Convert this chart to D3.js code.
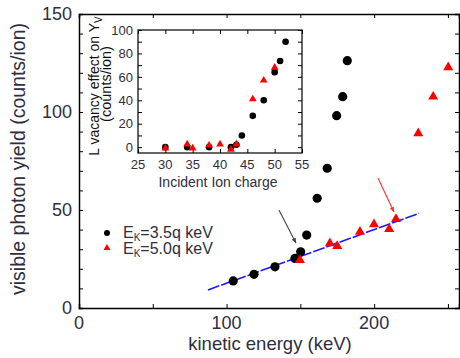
<!DOCTYPE html>
<html>
<head>
<meta charset="utf-8">
<script src="https://cdnjs.cloudflare.com/ajax/libs/d3/7.8.5/d3.min.js"></script>
<style>
  body { margin: 0; background: #fff; }
  svg { display: block; font-family: "Liberation Sans", Arial, sans-serif; }
  .axis path, .axis line { stroke: #000; }
</style>
</head>
<body>
<div id="chart"></div>
<script>
// main panel: visible photon yield vs kinetic energy
var blackEnergy = [104.5, 118.6, 132.8, 146.3, 150.2, 154.3, 161.4, 168.2, 174.6, 178.7, 181.8];
var blackYield  = [13.8, 17.2, 21.0, 25.3, 28.7, 37.2, 56.0, 71.3, 98.1, 107.8, 126.2];
var redEnergy = [149.7, 170.0, 175.0, 190.4, 199.9, 210.2, 214.8, 229.9, 240.0, 250.2];
var redYield  = [24.5, 33.0, 31.6, 38.9, 42.7, 40.3, 45.4, 89.1, 107.8, 122.8];
var fitEnergy = [87.4, 230.4];
var fitYield  = [9.2, 48.3];
var xLabels = [0, 100, 200];
var yTicks = [0, 50, 100, 150];

// inset: L vacancy effect vs incident ion charge
var insetBlackCharge = [30, 34, 38, 42, 43, 44, 46, 48, 50, 51, 52];
var insetBlackEffect = [0, 0, 0, 0, 2, 10, 26.7, 40, 64, 73.5, 90];
var insetRedCharge = [30, 34, 35, 38, 40, 42, 43, 46, 48, 50];
var insetRedEffect = [-1, 2.5, -1, 1.5, 2.5, -2, 2.5, 41, 57, 68];
var insetXTicks = [25, 30, 35, 40, 45, 50, 55];
var insetYTicks = [0, 20, 40, 60, 80, 100];

var legendLabels = ["3.5q keV", "5.0q keV"];

var width = 460, height = 358;
var textColor = "#2e2e40";

var svg = d3.select("#chart").append("svg")
    .attr("width", width)
    .attr("height", height);

var x = d3.scaleLinear().domain([0, 257.5]).range([79, 459]);
var y = d3.scaleLinear().domain([0, 150]).range([308, 14]);

// axes, ticks pointing inward
var xMinor = d3.range(0, 251, 50);
var yMinor = d3.range(0, 151, 10);

function frame(g) { g.select(".domain").attr("stroke-width", 1.5); }

svg.append("g")
    .attr("class", "axis")
    .attr("transform", "translate(0," + y(0) + ")")
    .call(d3.axisTop(x).tickValues(xMinor).tickSize(4).tickFormat(""))
    .call(frame);

svg.append("g")
    .attr("class", "axis")
    .attr("transform", "translate(0," + y(150) + ")")
    .call(d3.axisBottom(x).tickValues(xMinor).tickSize(4).tickFormat(""))
    .call(frame);

svg.append("g")
    .attr("class", "axis")
    .attr("transform", "translate(" + x(0) + ",0)")
    .call(d3.axisRight(y).tickValues(yMinor).tickSize(4).tickFormat(""))
    .call(frame);

svg.append("g")
    .attr("class", "axis")
    .attr("transform", "translate(" + x.range()[1] + ",0)")
    .call(d3.axisLeft(y).tickValues(yMinor).tickSize(4).tickFormat(""))
    .call(frame);

// tick labels
svg.selectAll(".xlab")
    .data(xLabels)
    .enter().append("text")
    .attr("x", function(d) { return x(d); })
    .attr("y", 329)
    .attr("text-anchor", "middle")
    .style("font-size", "18px")
    .style("fill", textColor)
    .text(function(d) { return d; });

svg.selectAll(".ylab")
    .data(yTicks)
    .enter().append("text")
    .attr("x", 72)
    .attr("y", function(d) { return y(d); })
    .attr("dy", "0.36em")
    .attr("text-anchor", "end")
    .style("font-size", "18px")
    .style("fill", textColor)
    .text(function(d) { return d; });

// axis titles
svg.append("text")
    .attr("x", 270)
    .attr("y", 350)
    .attr("text-anchor", "middle")
    .style("font-size", "18.5px")
    .style("fill", textColor)
    .text("kinetic energy (keV)");

svg.append("text")
    .attr("transform", "translate(25,159) rotate(-90)")
    .attr("text-anchor", "middle")
    .style("font-size", "19.5px")
    .style("fill", textColor)
    .text("visible photon yield (counts/ion)");

// linear fit, dashed blue
var line = d3.line()
    .x(function(d) { return x(d[0]); })
    .y(function(d) { return y(d[1]); });

svg.append("path")
    .datum(d3.zip(fitEnergy, fitYield))
    .attr("d", line)
    .attr("fill", "none")
    .attr("stroke", "#1a1aff")
    .attr("stroke-width", 1.6)
    .attr("stroke-dasharray", "12,2");

var tri = d3.symbol().type(d3.symbolTriangle);

svg.selectAll(".bdot")
    .data(d3.zip(blackEnergy, blackYield))
    .enter().append("circle")
    .attr("cx", function(d) { return x(d[0]); })
    .attr("cy", function(d) { return y(d[1]); })
    .attr("r", 4.6)
    .attr("fill", "#000");

svg.selectAll(".rtri")
    .data(d3.zip(redEnergy, redYield))
    .enter().append("path")
    .attr("d", tri.size(44))
    .attr("transform", function(d) { return "translate(" + x(d[0]) + "," + y(d[1]) + ")"; })
    .attr("fill", "#ff0000");

// arrows
var defs = svg.append("defs");
function marker(id, color) {
  defs.append("marker")
      .attr("id", id)
      .attr("viewBox", "0 -5 10 10")
      .attr("refX", 9)
      .attr("markerWidth", 5)
      .attr("markerHeight", 5)
      .attr("orient", "auto")
    .append("path")
      .attr("d", "M0,-4L10,0L0,4")
      .attr("fill", color);
}
marker("headBlack", "#444");
marker("headRed", "#ff3030");

var arrows = [
  {from: [135.5, 50.0], to: [147.0, 33.2], color: "#444", head: "headBlack"},
  {from: [202.6, 66.3], to: [213.4, 49.0], color: "#ff3030", head: "headRed"}
];

svg.selectAll(".arrow")
    .data(arrows)
    .enter().append("line")
    .attr("x1", function(d) { return x(d.from[0]); })
    .attr("y1", function(d) { return y(d.from[1]); })
    .attr("x2", function(d) { return x(d.to[0]); })
    .attr("y2", function(d) { return y(d.to[1]); })
    .attr("stroke", function(d) { return d.color; })
    .attr("stroke-width", 1.1)
    .attr("marker-end", function(d) { return "url(#" + d.head + ")"; });

// legend
var legend = svg.append("g").attr("transform", "translate(107,233)");

legend.append("circle").attr("cx", 0).attr("cy", 0).attr("r", 3).attr("fill", "#000");
legend.append("path")
    .attr("d", tri.size(22))
    .attr("transform", "translate(0,15)")
    .attr("fill", "#ff0000");

legendLabels.forEach(function(lab, i) {
  var t = legend.append("text")
      .attr("x", 16)
      .attr("y", 5 + i * 16)
      .style("font-size", "16px")
      .style("fill", textColor);
  t.append("tspan").text("E");
  t.append("tspan").attr("dy", 3).style("font-size", "10px").text("K");
  t.append("tspan").attr("dy", -3).text("=" + lab);
});

// inset
var ix = d3.scaleLinear().domain([25, 55]).range([138, 302]);
var iy = d3.scaleLinear().domain([-5, 100]).range([153, 30]);

var inset = svg.append("g");

inset.append("rect")
    .attr("x", ix(25))
    .attr("y", iy(100))
    .attr("width", ix(55) - ix(25))
    .attr("height", iy(-5) - iy(100))
    .attr("fill", "#fff")
    .attr("stroke", "#000")
    .attr("stroke-width", 1.2);

var iyMinor = d3.range(0, 101, 10);

function noDomain(g) { g.select(".domain").remove(); }

inset.append("g")
    .attr("class", "axis")
    .attr("transform", "translate(0," + iy(-5) + ")")
    .call(d3.axisTop(ix).tickValues(insetXTicks).tickSize(4).tickFormat(""))
    .call(noDomain);

inset.append("g")
    .attr("class", "axis")
    .attr("transform", "translate(0," + iy(100) + ")")
    .call(d3.axisBottom(ix).tickValues(insetXTicks).tickSize(4).tickFormat(""))
    .call(noDomain);

inset.append("g")
    .attr("class", "axis")
    .attr("transform", "translate(" + ix(25) + ",0)")
    .call(d3.axisRight(iy).tickValues(iyMinor).tickSize(4).tickFormat(""))
    .call(noDomain);

inset.append("g")
    .attr("class", "axis")
    .attr("transform", "translate(" + ix(55) + ",0)")
    .call(d3.axisLeft(iy).tickValues(iyMinor).tickSize(4).tickFormat(""))
    .call(noDomain);

inset.selectAll(".ixlab")
    .data(insetXTicks)
    .enter().append("text")
    .attr("x", function(d) { return ix(d); })
    .attr("y", 169)
    .attr("text-anchor", "middle")
    .style("font-size", "13px")
    .style("fill", textColor)
    .text(function(d) { return d; });

inset.selectAll(".iylab")
    .data(insetYTicks)
    .enter().append("text")
    .attr("x", 133)
    .attr("y", function(d) { return iy(d); })
    .attr("dy", "0.36em")
    .attr("text-anchor", "end")
    .style("font-size", "13px")
    .style("fill", textColor)
    .text(function(d) { return d; });

inset.append("text")
    .attr("x", 218)
    .attr("y", 187)
    .attr("text-anchor", "middle")
    .style("font-size", "14px")
    .style("fill", textColor)
    .text("Incident Ion charge");

var yl = inset.append("text")
    .attr("transform", "translate(99,86) rotate(-90)")
    .attr("text-anchor", "middle")
    .style("font-size", "14px")
    .style("fill", "#111");
yl.append("tspan").text("L vacancy effect on Y");
yl.append("tspan").attr("dy", 3).style("font-size", "10px").text("V");

inset.append("text")
    .attr("transform", "translate(111,84) rotate(-90)")
    .attr("text-anchor", "middle")
    .style("font-size", "14.5px")
    .style("fill", "#111")
    .text("(counts/ion)");

inset.selectAll(".ibdot")
    .data(d3.zip(insetBlackCharge, insetBlackEffect))
    .enter().append("circle")
    .attr("cx", function(d) { return ix(d[0]); })
    .attr("cy", function(d) { return iy(d[1]); })
    .attr("r", 3.3)
    .attr("fill", "#000");

inset.selectAll(".irtri")
    .data(d3.zip(insetRedCharge, insetRedEffect))
    .enter().append("path")
    .attr("d", tri.size(26))
    .attr("transform", function(d) { return "translate(" + ix(d[0]) + "," + iy(d[1]) + ")"; })
    .attr("fill", "#ff0000");
</script>
</body>
</html>
